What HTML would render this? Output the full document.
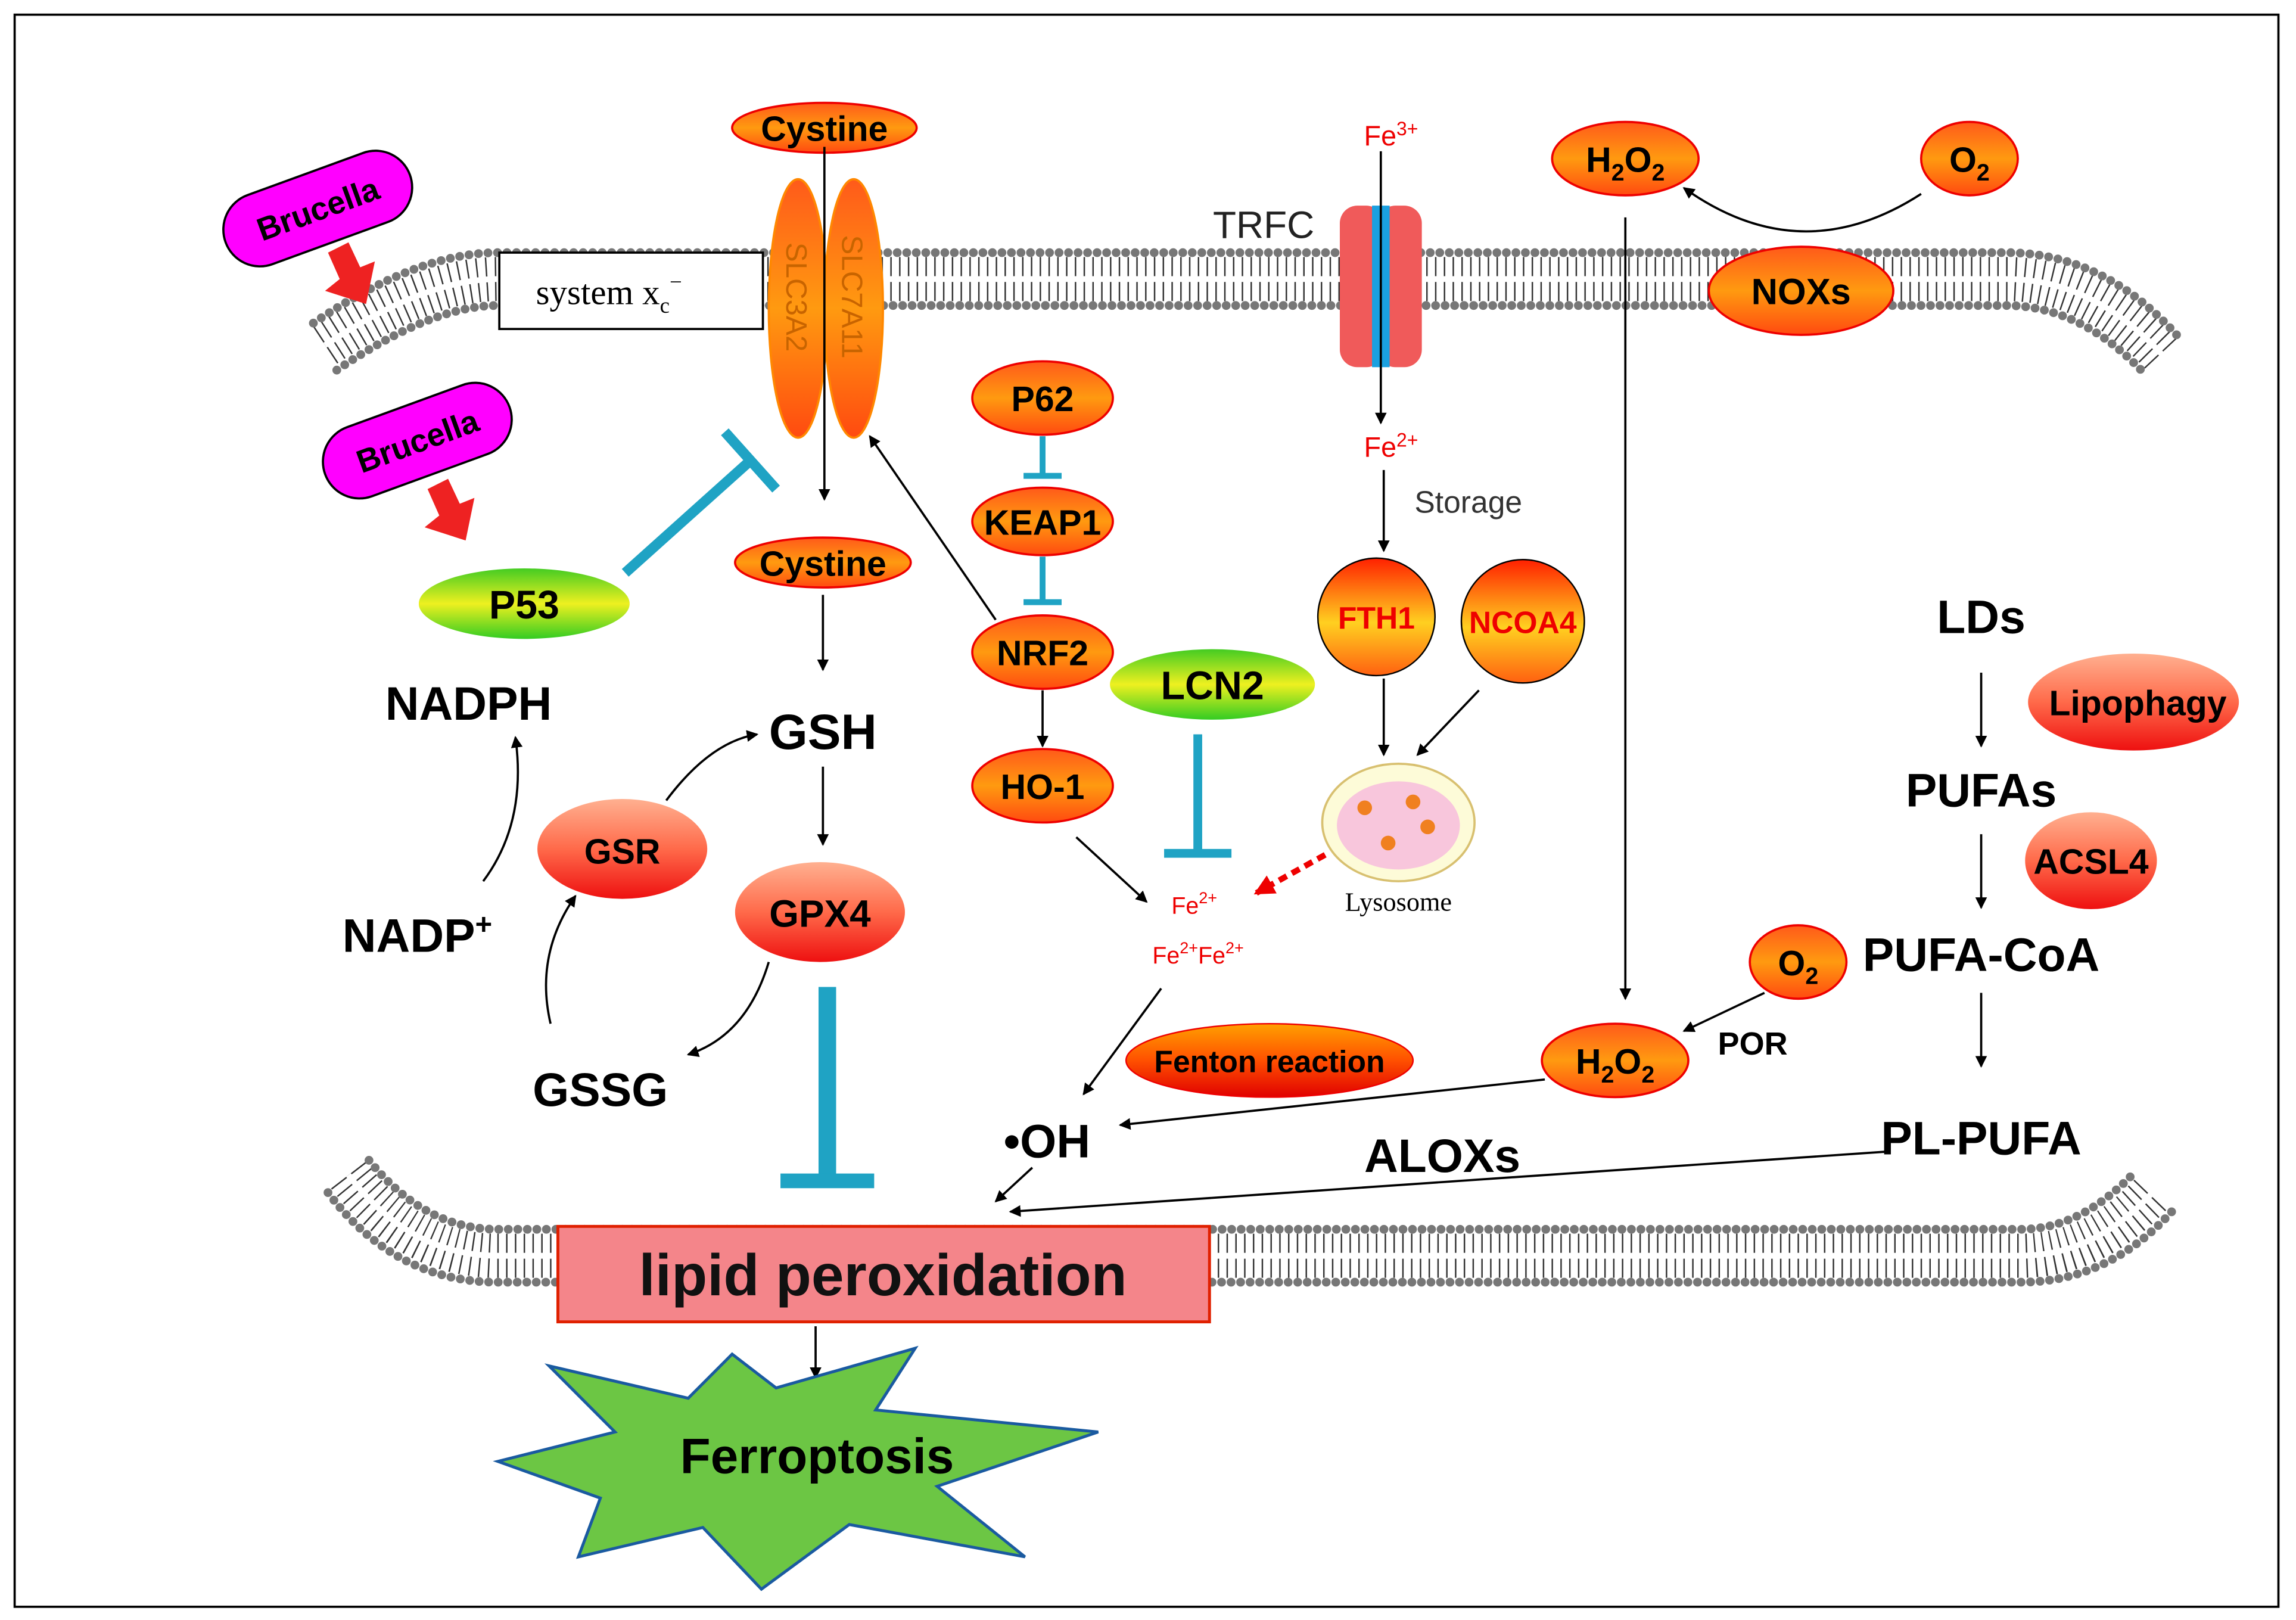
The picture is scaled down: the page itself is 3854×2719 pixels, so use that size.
<!DOCTYPE html>
<html><head><meta charset="utf-8"><style>html,body{margin:0;padding:0;background:#fff}svg{display:block}text{font-family:"Liberation Sans",sans-serif}</style></head>
<body>
<svg width="3854" height="2719" viewBox="0 0 1568 1103" preserveAspectRatio="none" xmlns="http://www.w3.org/2000/svg">
<defs>
<linearGradient id="og" x1="0" y1="0" x2="0" y2="1"><stop offset="0" stop-color="#ff5a1a"/><stop offset="0.5" stop-color="#ff9a10"/><stop offset="1" stop-color="#ff4a10"/></linearGradient>
<linearGradient id="rg" x1="0" y1="0" x2="0" y2="1"><stop offset="0" stop-color="#ffb090"/><stop offset="0.5" stop-color="#ff6a4a"/><stop offset="1" stop-color="#ee1010"/></linearGradient>
<linearGradient id="gg" x1="0" y1="0" x2="0" y2="1"><stop offset="0" stop-color="#44cc22"/><stop offset="0.5" stop-color="#eef020"/><stop offset="1" stop-color="#33cc22"/></linearGradient>
<linearGradient id="yg" x1="0" y1="0" x2="0" y2="1"><stop offset="0" stop-color="#ff2000"/><stop offset="0.55" stop-color="#ffd020"/><stop offset="1" stop-color="#ff6010"/></linearGradient>
<linearGradient id="fg" x1="0" y1="0" x2="0" y2="1"><stop offset="0" stop-color="#ffa000"/><stop offset="0.5" stop-color="#ff5000"/><stop offset="1" stop-color="#e00000"/></linearGradient>
<marker id="ah" markerWidth="8" markerHeight="8" refX="7" refY="4" orient="auto" markerUnits="userSpaceOnUse"><path d="M0,0 L8,4 L0,8 z" fill="#000"/></marker>
<marker id="rah" markerWidth="14" markerHeight="14" refX="12" refY="7" orient="auto" markerUnits="userSpaceOnUse"><path d="M0,0 L14,7 L0,14 z" fill="#e00"/></marker>
</defs>
<rect x="10" y="10" width="1546" height="1084" fill="#fff" stroke="#000" stroke-width="1.5"/>

<!-- top membrane -->
<g fill="none">
<path d="M222 235 Q290 190 340 190 L1370 190 Q1430 190 1478 243" stroke="#333" stroke-width="30" stroke-dasharray="1 5"/>
<path d="M222 235 Q290 190 340 190 L1370 190 Q1430 190 1478 243" stroke="#fff" stroke-width="4"/>
<path d="M214 220 Q285 172 340 172 L1370 172 Q1438 172 1490 232" stroke="#777" stroke-width="6" stroke-linecap="round" stroke-dasharray="0 6.5"/>
<path d="M230 252 Q295 208 340 208 L1370 208 Q1422 208 1466 256" stroke="#777" stroke-width="6" stroke-linecap="round" stroke-dasharray="0 6.5"/>
</g>
<!-- bottom membrane -->
<g fill="none">
<path d="M238 800 Q280 855 340 855 L1380 855 Q1430 855 1470 812" stroke="#333" stroke-width="30" stroke-dasharray="1 5"/>
<path d="M238 800 Q280 855 340 855 L1380 855 Q1430 855 1470 812" stroke="#fff" stroke-width="4"/>
<path d="M252 790 Q290 837 340 837 L1380 837 Q1420 837 1456 800" stroke="#777" stroke-width="6" stroke-linecap="round" stroke-dasharray="0 6.5"/>
<path d="M224 812 Q270 873 340 873 L1380 873 Q1440 873 1484 824" stroke="#777" stroke-width="6" stroke-linecap="round" stroke-dasharray="0 6.5"/>
</g>

<!-- system xc -->
<rect x="341" y="172" width="180" height="52" fill="#fff" stroke="#000" stroke-width="1.5"/>
<text x="366" y="207" font-family="Liberation Serif" font-size="24" style="font-family:'Liberation Serif',serif">system x<tspan font-size="15" dy="6">c</tspan><tspan font-size="15" dy="-16">−</tspan></text>

<!-- SLC -->
<ellipse cx="545" cy="210" rx="20" ry="88" fill="url(#og)" stroke="#f80" stroke-width="1.5"/>
<ellipse cx="583" cy="210" rx="20" ry="88" fill="url(#og)" stroke="#f80" stroke-width="1.5"/>
<text transform="translate(537,165) rotate(90)" font-size="20" fill="#c86400">SLC3A2</text>
<text transform="translate(575,160) rotate(90)" font-size="20" fill="#c86400">SLC7A11</text>
<ellipse cx="563" cy="87" rx="63" ry="17" fill="url(#og)" stroke="#e00" stroke-width="1.5"/>
<text x="563" y="96" font-size="24" font-weight="bold" text-anchor="middle">Cystine</text>
<line x1="563" y1="100" x2="563" y2="340" stroke="#000" stroke-width="1.5" marker-end="url(#ah)"/>

<!-- Brucella -->
<g transform="translate(217,142) rotate(-20)"><rect x="-67" y="-25" width="134" height="50" rx="25" fill="#f0f" stroke="#000" stroke-width="1.5"/><text x="0" y="8" font-size="22" font-weight="bold" text-anchor="middle">Brucella</text></g>
<g transform="translate(285,300) rotate(-20)"><rect x="-67" y="-25" width="134" height="50" rx="25" fill="#f0f" stroke="#000" stroke-width="1.5"/><text x="0" y="8" font-size="22" font-weight="bold" text-anchor="middle">Brucella</text></g>
<path d="M224 172 L238 165 L246 182 L256 178 L250 207 L222 198 L232 190 z" fill="#e22"/>
<path d="M292 333 L306 326 L314 343 L324 339 L318 368 L290 359 L300 351 z" fill="#e22"/>

<!-- P53 -->
<ellipse cx="358" cy="411" rx="72" ry="24" fill="url(#gg)"/>
<text x="358" y="421" font-size="27" font-weight="bold" text-anchor="middle">P53</text>
<line x1="427" y1="390" x2="512" y2="314" stroke="#1fa3c4" stroke-width="7"/>
<line x1="495" y1="294" x2="530" y2="333" stroke="#1fa3c4" stroke-width="7"/>

<!-- GSH path -->
<ellipse cx="562" cy="383" rx="60" ry="17" fill="url(#og)" stroke="#e00" stroke-width="1.5"/>
<text x="562" y="392" font-size="24" font-weight="bold" text-anchor="middle">Cystine</text>
<line x1="562" y1="405" x2="562" y2="456" stroke="#000" stroke-width="1.5" marker-end="url(#ah)"/>
<text x="562" y="510" font-size="34" font-weight="bold" text-anchor="middle">GSH</text>
<line x1="562" y1="522" x2="562" y2="575" stroke="#000" stroke-width="1.5" marker-end="url(#ah)"/>
<ellipse cx="560" cy="621" rx="58" ry="34" fill="url(#rg)"/>
<text x="560" y="631" font-size="26" font-weight="bold" text-anchor="middle">GPX4</text>
<ellipse cx="425" cy="578" rx="58" ry="34" fill="url(#rg)"/>
<text x="425" y="588" font-size="24" font-weight="bold" text-anchor="middle">GSR</text>
<text x="320" y="490" font-size="32" font-weight="bold" text-anchor="middle">NADPH</text>
<text x="285" y="648" font-size="32" font-weight="bold" text-anchor="middle">NADP<tspan font-size="20" dy="-12">+</tspan></text>
<text x="410" y="753" font-size="32" font-weight="bold" text-anchor="middle">GSSG</text>
<path d="M330 600 Q360 560 352 502" fill="none" stroke="#000" stroke-width="1.5" marker-end="url(#ah)"/>
<path d="M455 545 Q485 505 517 500" fill="none" stroke="#000" stroke-width="1.5" marker-end="url(#ah)"/>
<path d="M376 697 Q365 650 393 610" fill="none" stroke="#000" stroke-width="1.5" marker-end="url(#ah)"/>
<path d="M525 655 Q510 705 470 718" fill="none" stroke="#000" stroke-width="1.5" marker-end="url(#ah)"/>
<line x1="565" y1="672" x2="565" y2="803" stroke="#1fa3c4" stroke-width="12"/>
<line x1="533" y1="804" x2="597" y2="804" stroke="#1fa3c4" stroke-width="10"/>

<!-- NRF2 column -->
<ellipse cx="712" cy="271" rx="48" ry="25" fill="url(#og)" stroke="#e00" stroke-width="1.5"/>
<text x="712" y="280" font-size="24" font-weight="bold" text-anchor="middle">P62</text>
<ellipse cx="712" cy="355" rx="48" ry="23" fill="url(#og)" stroke="#e00" stroke-width="1.5"/>
<text x="712" y="364" font-size="24" font-weight="bold" text-anchor="middle">KEAP1</text>
<ellipse cx="712" cy="444" rx="48" ry="25" fill="url(#og)" stroke="#e00" stroke-width="1.5"/>
<text x="712" y="453" font-size="24" font-weight="bold" text-anchor="middle">NRF2</text>
<ellipse cx="712" cy="535" rx="48" ry="25" fill="url(#og)" stroke="#e00" stroke-width="1.5"/>
<text x="712" y="544" font-size="24" font-weight="bold" text-anchor="middle">HO-1</text>
<line x1="712" y1="297" x2="712" y2="324" stroke="#1fa3c4" stroke-width="4"/><line x1="699" y1="324" x2="725" y2="324" stroke="#1fa3c4" stroke-width="4"/>
<line x1="712" y1="379" x2="712" y2="410" stroke="#1fa3c4" stroke-width="4"/><line x1="699" y1="410" x2="725" y2="410" stroke="#1fa3c4" stroke-width="4"/>
<line x1="712" y1="470" x2="712" y2="508" stroke="#000" stroke-width="1.5" marker-end="url(#ah)"/>
<line x1="680" y1="422" x2="594" y2="297" stroke="#000" stroke-width="1.5" marker-end="url(#ah)"/>
<line x1="735" y1="570" x2="783" y2="614" stroke="#000" stroke-width="1.5" marker-end="url(#ah)"/>

<ellipse cx="828" cy="466" rx="70" ry="24" fill="url(#gg)"/>
<text x="828" y="476" font-size="27" font-weight="bold" text-anchor="middle">LCN2</text>
<line x1="818" y1="500" x2="818" y2="580" stroke="#1fa3c4" stroke-width="6"/>
<line x1="795" y1="581" x2="841" y2="581" stroke="#1fa3c4" stroke-width="6"/>

<text x="800" y="622" font-size="16" fill="#e00">Fe<tspan font-size="11" dy="-7">2+</tspan></text>
<text x="787" y="656" font-size="16" fill="#e00">Fe<tspan font-size="11" dy="-7">2+</tspan><tspan font-size="16" dy="7">Fe</tspan><tspan font-size="11" dy="-7">2+</tspan></text>

<!-- TRFC -->
<text x="863" y="162" font-size="26" text-anchor="middle" fill="#222">TRFC</text>
<rect x="915" y="140" width="30" height="110" rx="12" fill="#f05a5a"/>
<rect x="941" y="140" width="30" height="110" rx="12" fill="#f05a5a"/>
<rect x="937" y="140" width="12" height="110" fill="#1aa0e0"/>
<text x="950" y="99" font-size="19" fill="#e00" text-anchor="middle">Fe<tspan font-size="13" dy="-7">3+</tspan></text>
<line x1="943" y1="103" x2="943" y2="288" stroke="#000" stroke-width="1.5" marker-end="url(#ah)"/>
<text x="950" y="311" font-size="19" fill="#e00" text-anchor="middle">Fe<tspan font-size="13" dy="-7">2+</tspan></text>
<line x1="945" y1="320" x2="945" y2="375" stroke="#000" stroke-width="1.5" marker-end="url(#ah)"/>
<text x="966" y="349" font-size="21" fill="#333">Storage</text>
<circle cx="940" cy="420" r="40" fill="url(#yg)" stroke="#000" stroke-width="1"/>
<text x="940" y="428" font-size="21" font-weight="bold" fill="#e00" text-anchor="middle">FTH1</text>
<circle cx="1040" cy="423" r="42" fill="url(#yg)" stroke="#000" stroke-width="1"/>
<text x="1040" y="431" font-size="21" font-weight="bold" fill="#e00" text-anchor="middle">NCOA4</text>
<line x1="945" y1="462" x2="945" y2="514" stroke="#000" stroke-width="1.5" marker-end="url(#ah)"/>
<line x1="1010" y1="470" x2="968" y2="514" stroke="#000" stroke-width="1.5" marker-end="url(#ah)"/>
<ellipse cx="955" cy="560" rx="52" ry="40" fill="#fdfbd8" stroke="#d8c070" stroke-width="1.5"/>
<ellipse cx="955" cy="562" rx="42" ry="30" fill="#f8c6dc"/>
<circle cx="932" cy="550" r="5" fill="#f08020"/><circle cx="965" cy="546" r="5" fill="#f08020"/><circle cx="948" cy="574" r="5" fill="#f08020"/><circle cx="975" cy="563" r="5" fill="#f08020"/>
<text x="955" y="620" font-size="18" text-anchor="middle" style="font-family:'Liberation Serif',serif">Lysosome</text>
<line x1="905" y1="582" x2="858" y2="608" stroke="#e00" stroke-width="4" stroke-dasharray="6 4" marker-end="url(#rah)"/>

<line x1="793" y1="673" x2="740" y2="745" stroke="#000" stroke-width="1.5" marker-end="url(#ah)"/>
<ellipse cx="867" cy="722" rx="98" ry="25" fill="url(#fg)" stroke="#e00" stroke-width="1"/>
<text x="867" y="730" font-size="21" font-weight="bold" text-anchor="middle">Fenton reaction</text>
<text x="715" y="788" font-size="32" font-weight="bold" text-anchor="middle">•OH</text>
<line x1="705" y1="795" x2="680" y2="818" stroke="#000" stroke-width="1.5" marker-end="url(#ah)"/>

<!-- NOX -->
<ellipse cx="1110" cy="108" rx="50" ry="25" fill="url(#og)" stroke="#e00" stroke-width="1.5"/>
<text x="1110" y="117" font-size="24" font-weight="bold" text-anchor="middle">H<tspan font-size="16" dy="6">2</tspan><tspan dy="-6">O</tspan><tspan font-size="16" dy="6">2</tspan></text>
<ellipse cx="1345" cy="108" rx="33" ry="25" fill="url(#og)" stroke="#e00" stroke-width="1.5"/>
<text x="1345" y="117" font-size="24" font-weight="bold" text-anchor="middle">O<tspan font-size="16" dy="6">2</tspan></text>
<ellipse cx="1230" cy="198" rx="63" ry="30" fill="url(#og)" stroke="#e00" stroke-width="1.5"/>
<text x="1230" y="207" font-size="25" font-weight="bold" text-anchor="middle">NOXs</text>
<path d="M1312 132 Q1230 185 1150 128" fill="none" stroke="#000" stroke-width="1.5" marker-end="url(#ah)"/>
<line x1="1110" y1="148" x2="1110" y2="680" stroke="#000" stroke-width="1.5" marker-end="url(#ah)"/>

<ellipse cx="1103" cy="722" rx="50" ry="25" fill="url(#og)" stroke="#e00" stroke-width="1.5"/>
<text x="1103" y="731" font-size="24" font-weight="bold" text-anchor="middle">H<tspan font-size="16" dy="6">2</tspan><tspan dy="-6">O</tspan><tspan font-size="16" dy="6">2</tspan></text>
<ellipse cx="1228" cy="655" rx="33" ry="25" fill="url(#og)" stroke="#e00" stroke-width="1.5"/>
<text x="1228" y="664" font-size="24" font-weight="bold" text-anchor="middle">O<tspan font-size="16" dy="6">2</tspan></text>
<line x1="1205" y1="676" x2="1150" y2="702" stroke="#000" stroke-width="1.5" marker-end="url(#ah)"/>
<text x="1197" y="718" font-size="22" font-weight="bold" text-anchor="middle">POR</text>
<line x1="1055" y1="735" x2="765" y2="766" stroke="#000" stroke-width="1.5" marker-end="url(#ah)"/>

<!-- right column -->
<text x="1353" y="431" font-size="32" font-weight="bold" text-anchor="middle">LDs</text>
<line x1="1353" y1="458" x2="1353" y2="508" stroke="#000" stroke-width="1.5" marker-end="url(#ah)"/>
<ellipse cx="1457" cy="478" rx="72" ry="33" fill="url(#rg)"/>
<text x="1460" y="487" font-size="24" font-weight="bold" text-anchor="middle">Lipophagy</text>
<text x="1353" y="549" font-size="32" font-weight="bold" text-anchor="middle">PUFAs</text>
<line x1="1353" y1="568" x2="1353" y2="618" stroke="#000" stroke-width="1.5" marker-end="url(#ah)"/>
<ellipse cx="1428" cy="586" rx="45" ry="33" fill="url(#rg)"/>
<text x="1428" y="595" font-size="24" font-weight="bold" text-anchor="middle">ACSL4</text>
<text x="1353" y="661" font-size="32" font-weight="bold" text-anchor="middle">PUFA-CoA</text>
<line x1="1353" y1="676" x2="1353" y2="726" stroke="#000" stroke-width="1.5" marker-end="url(#ah)"/>
<text x="1353" y="786" font-size="32" font-weight="bold" text-anchor="middle">PL-PUFA</text>
<line x1="1290" y1="784" x2="690" y2="825" stroke="#000" stroke-width="1.5" marker-end="url(#ah)"/>
<text x="985" y="798" font-size="32" font-weight="bold" text-anchor="middle">ALOXs</text>

<!-- lipid peroxidation -->
<rect x="381" y="835" width="445" height="65" fill="#f4858a" stroke="#e02000" stroke-width="2"/>
<text x="603" y="882" font-size="40" font-weight="bold" text-anchor="middle" fill="#111">lipid peroxidation</text>
<line x1="557" y1="903" x2="557" y2="938" stroke="#000" stroke-width="1.5" marker-end="url(#ah)"/>

<!-- Ferroptosis star -->
<polygon points="375,930 470,952 500,922 530,945 625,918 598,960 750,975 640,1012 700,1060 580,1038 520,1082 480,1040 395,1060 410,1020 340,995 420,975" fill="#6cc644" stroke="#1a5aa0" stroke-width="2"/>
<text x="558" y="1003" font-size="34" font-weight="bold" text-anchor="middle">Ferroptosis</text>
</svg>
</body></html>
